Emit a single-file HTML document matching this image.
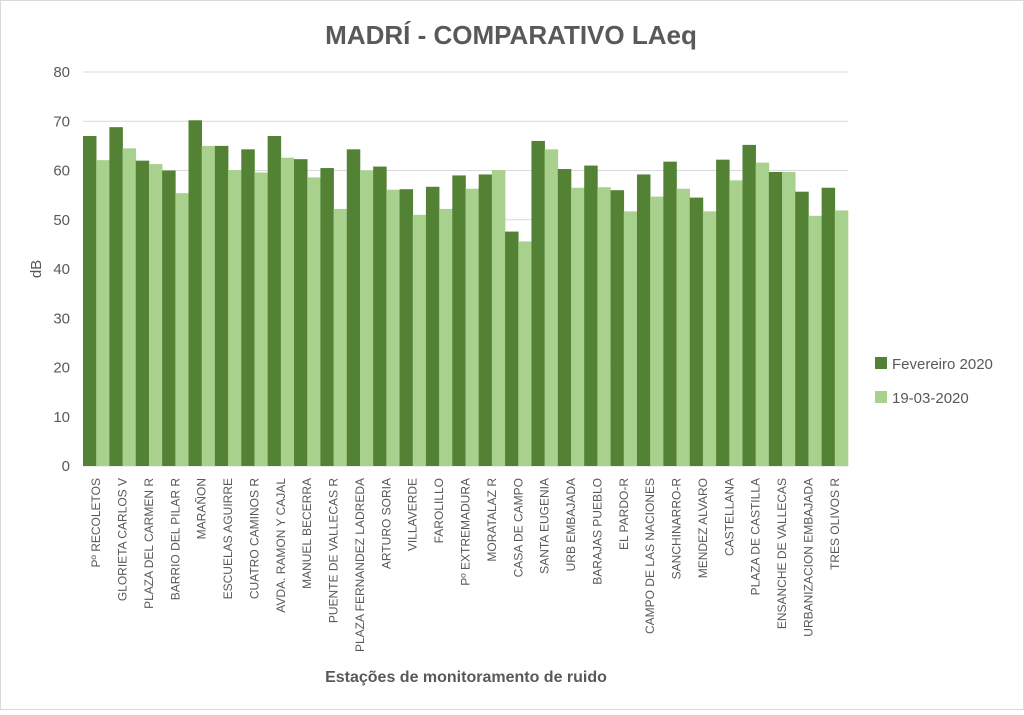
<!DOCTYPE html>
<html><head><meta charset="utf-8"><style>
body{margin:0;background:#fff;font-family:"Liberation Sans",sans-serif}
svg text{font-family:"Liberation Sans",sans-serif;fill:#595959}
</style></head><body>
<svg width="1024" height="710" viewBox="0 0 1024 710">
<rect x="0.5" y="0.5" width="1023" height="709" fill="#fff" stroke="#d9d9d9"/>
<text x="511" y="44" text-anchor="middle" font-size="26" font-weight="bold">MADRÍ - COMPARATIVO LAeq</text>
<g id="grid"></g><g id="bars"></g><g id="ylab"></g><g id="xlab"></g>
<text transform="translate(41,269) rotate(-90)" text-anchor="middle" font-size="15">dB</text>
<text x="466" y="682" text-anchor="middle" font-size="16" font-weight="bold">Estações de monitoramento de ruido</text>
<g>
<rect x="875" y="357" width="12" height="12" fill="#548235"/>
<text x="892" y="369" font-size="15">Fevereiro 2020</text>
<rect x="875" y="391" width="12" height="12" fill="#a9d18e"/>
<text x="892" y="403" font-size="15">19-03-2020</text>
</g>
</svg>
<script>
const categories=["Pº RECOLETOS","GLORIETA CARLOS V","PLAZA DEL CARMEN R","BARRIO DEL PILAR R","MARAÑON","ESCUELAS AGUIRRE","CUATRO CAMINOS R","AVDA. RAMON Y CAJAL","MANUEL BECERRA","PUENTE DE VALLECAS R","PLAZA FERNANDEZ LADREDA","ARTURO SORIA","VILLAVERDE","FAROLILLO","Pº EXTREMADURA","MORATALAZ R","CASA DE CAMPO","SANTA EUGENIA","URB EMBAJADA","BARAJAS PUEBLO","EL PARDO-R","CAMPO DE LAS NACIONES","SANCHINARRO-R","MENDEZ ALVARO","CASTELLANA","PLAZA DE CASTILLA","ENSANCHE DE VALLECAS","URBANIZACION EMBAJADA","TRES OLIVOS R"];
const fevereiro=[67,68.8,62,60,70.2,65,64.3,67,62.3,60.5,64.3,60.8,56.2,56.7,59,59.2,47.6,66,60.3,61,56,59.2,61.8,54.5,62.2,65.2,59.7,55.7,56.5];
const marco=[62.1,64.5,61.3,55.4,65,60.1,59.6,62.6,58.6,52.2,60,56.1,51,52.2,56.3,60.1,45.6,64.3,56.5,56.6,51.7,54.7,56.3,51.7,58,61.6,59.7,50.8,51.9];
const yTicks=[0,10,20,30,40,50,60,70,80];
const NS="http://www.w3.org/2000/svg";
const X0=83,X1=848,Y0=466,Y1=72,YMAX=80;
const y=v=>Y0-(v/YMAX)*(Y0-Y1);
const band=(X1-X0)/categories.length;
const x=i=>X0+i*band;
function mk(t,a,p){const e=document.createElementNS(NS,t);for(const k in a)e.setAttribute(k,a[k]);p.appendChild(e);return e;}
const grid=document.getElementById('grid'),bars=document.getElementById('bars'),ylab=document.getElementById('ylab'),xlab=document.getElementById('xlab');
yTicks.forEach(t=>{
 const l=mk('line',{x1:X0,x2:X1,y1:y(t),y2:y(t),stroke:'#d9d9d9','stroke-width':1},grid);
 
 
 const tx=mk('text',{x:70,y:y(t)+5,'text-anchor':'end','font-size':15},ylab);
 tx.textContent=t;
 
 
});
categories.forEach((c,i)=>{
 const w=band/2;
 const b1=mk('rect',{x:x(i),y:y(fevereiro[i]),width:w+0.3,height:Y0-y(fevereiro[i]),fill:'#548235'},bars);
 
 
 const b2=mk('rect',{x:x(i)+w,y:y(marco[i]),width:w+0.3,height:Y0-y(marco[i]),fill:'#a9d18e'},bars);
 
 
 const cx=x(i)+band/2+4;
 const t=mk('text',{transform:'translate('+cx+',478) rotate(-90)','text-anchor':'end','font-size':12},xlab);
 t.textContent=c;
 
 
});
</script>
</body></html>
